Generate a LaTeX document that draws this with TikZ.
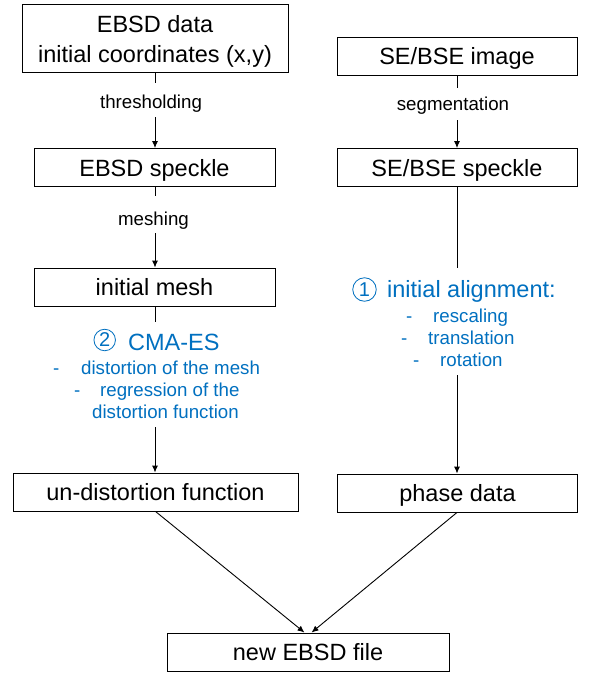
\documentclass[tikz,border=0pt]{standalone}
\usepackage{fontspec}
\setmainfont{Liberation Sans}
\usetikzlibrary{arrows.meta}
\definecolor{stepblue}{RGB}{0,112,192}
\newcommand{\boxfont}{\fontsize{23.5}{28}\selectfont}
\newcommand{\smallfont}{\fontsize{18.7}{22}\selectfont}
\newcommand{\headfont}{\fontsize{23.5}{28}\selectfont}
\tikzset{
  stepbox/.style={draw, line width=0.9pt, minimum height=38pt, inner sep=0pt,
    text height=17pt, text depth=0pt, font=\boxfont},
  gapnode/.style={inner sep=0pt, minimum width=1pt, font=\smallfont, text depth=0pt},
  conn/.style={line width=0.9pt},
  arr/.style={line width=0.9pt, -{Latex[length=7pt,width=6pt]}},
  bluetxt/.style={anchor=base west, inner sep=0pt, text=stepblue, font=\smallfont},
  bluehead/.style={anchor=base west, inner sep=0pt, text=stepblue, font=\headfont},
  circnum/.style={circle, draw=stepblue, line width=0.8pt, inner sep=0pt, text=stepblue,
    font=\fontsize{20}{24}\selectfont},
  txt/.style={anchor=base, inner sep=0pt, font=\boxfont}
}
\begin{document}
\begin{tikzpicture}[x=1pt,y=-1pt]
\useasboundingbox[fill=white] (0,0) rectangle (598,688);

% boxes
\node[stepbox, minimum width=266pt, minimum height=68pt] (ebsd) at (155,38) {};
\node[txt] (ebsdA) at (155,32) {EBSD data};
\node[txt] (ebsdB) at (155,62) {initial coordinates (x,y)};
\node[stepbox, minimum width=241pt] (espk) at (154.5,167.5) {EBSD speckle};
\node[stepbox, minimum width=241pt] (mesh) at (154.5,287) {initial mesh};
\node[stepbox, minimum width=285pt] (undist) at (155.5,492) {un-distortion function};
\node[stepbox, minimum width=240pt] (seimg) at (457,56) {SE/BSE image};
\node[stepbox, minimum width=240pt] (sespk) at (457,167.5) {SE/BSE speckle};
\node[stepbox, minimum width=240pt] (phase) at (457.5,493) {phase data};
\node[stepbox, minimum width=282pt] (newf) at (308,652) {new EBSD file};

% labels in gaps
\node[gapnode, minimum height=34pt, text height=16pt] (thr) at (151,100) {thresholding};
\node[gapnode, minimum height=37pt, text height=21pt] (mes) at (153.5,214.5) {meshing};
\node[gapnode, minimum height=32pt, text height=12pt] (seg) at (453,104) {segmentation};

% blue blocks (gap holders)
\node[inner sep=0pt, minimum width=1pt, minimum height=105pt] (cma) at (155,374.5) {};
\node[inner sep=0pt, minimum width=1pt, minimum height=107pt] (aln) at (457,321.5) {};

% blue texts left
\node[circnum, minimum size=21.5pt] (c2) at (104.7,340) {2};
\node[bluehead] (cmaT) at (128,350) {CMA-ES};
\node[bluetxt] (d1) at (53,374) {-};
\node[bluetxt] (l1) at (81,374) {distortion of the mesh};
\node[bluetxt] (d2) at (74,396.5) {-};
\node[bluetxt] (l2) at (100,396.5) {regression of the};
\node[bluetxt] (l3) at (92,418) {distortion function};

% blue texts right
\node[circnum, minimum size=23.5pt] (c1) at (364.5,289.5) {1};
\node[bluehead] (alnT) at (387,297.5) {initial alignment:};
\node[bluetxt] (d3) at (406,322.5) {-};
\node[bluetxt] (r1) at (433,322.5) {rescaling};
\node[bluetxt] (d4) at (401,344) {-};
\node[bluetxt] (r2) at (428,344) {translation};
\node[bluetxt] (d5) at (413,366) {-};
\node[bluetxt] (r3) at (440,366) {rotation};

% connectors left column
\draw[conn] (ebsd.south) -- (ebsd.south |- thr.north);
\draw[arr] (ebsd.south |- thr.south) -- (ebsd.south |- espk.north);
\draw[conn] (ebsd.south |- espk.south) -- (ebsd.south |- mes.north);
\draw[arr] (ebsd.south |- mes.south) -- (ebsd.south |- mesh.north);
\draw[conn] (cma.north |- mesh.south) -- (cma.north);
\draw[arr] (cma.south) -- (cma.south |- undist.north);

% connectors right column
\draw[conn] (seimg.south) -- (seimg.south |- seg.north);
\draw[arr] (seimg.south |- seg.south) -- (seimg.south |- sespk.north);
\draw[conn] (sespk.south) -- (aln.north);
\draw[arr] (aln.south) -- (aln.south |- phase.north);

% to final
\draw[arr] (undist.south) -- ([xshift=-3.5pt]newf.north);
\draw[arr] (aln.south |- phase.south) -- ([xshift=3.5pt]newf.north);
\end{tikzpicture}
\end{document}
